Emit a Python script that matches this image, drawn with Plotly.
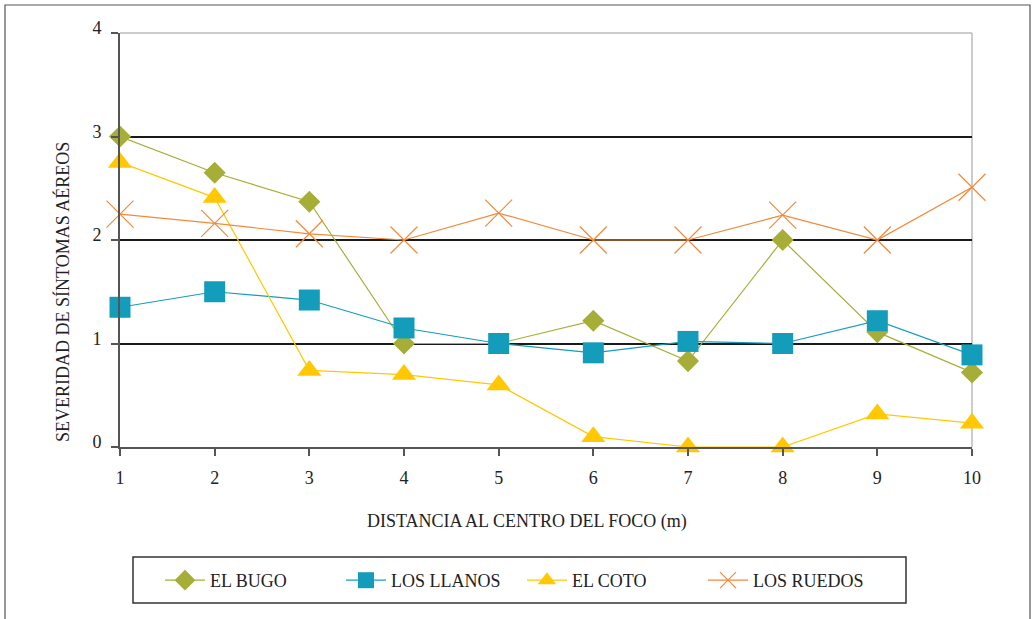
import plotly.graph_objects as go

# Distance from the centre of the focus (m)
distancia = [1, 2, 3, 4, 5, 6, 7, 8, 9, 10]

# Aerial symptom severity per site
el_bugo = [3.0, 2.65, 2.37, 1.0, 1.0, 1.22, 0.83, 2.0, 1.11, 0.72]
los_llanos = [1.35, 1.50, 1.42, 1.15, 1.0, 0.91, 1.02, 1.0, 1.22, 0.89]
el_coto = [2.75, 2.41, 0.74, 0.70, 0.60, 0.10, 0.0, 0.0, 0.32, 0.23]
los_ruedos = [2.25, 2.16, 2.06, 2.0, 2.26, 2.0, 2.0, 2.24, 2.0, 2.51]

y_ticks = [0, 1, 2, 3, 4]

FONT = "Liberation Serif"
TXT = "#222"

series = [
    ("EL BUGO", el_bugo, "#A6AE38", dict(symbol="diamond", size=17)),
    ("LOS LLANOS", los_llanos, "#149DBA", dict(symbol="square", size=21)),
    ("EL COTO", el_coto, "#FFC800", dict(symbol="triangle-up", size=21)),
    ("LOS RUEDOS", los_ruedos, "#F28A3A",
     dict(symbol="x-thin-open", size=27, line=dict(width=1.2))),
]

fig = go.Figure()
for name, vals, color, mk in series:
    marker = dict(color=color, **mk)
    if "line" in marker:
        marker["line"] = dict(color=color, width=mk["line"]["width"])
    else:
        marker["line"] = dict(width=0)
    fig.add_trace(go.Scatter(
        x=distancia, y=vals, name=name, mode="lines+markers",
        line=dict(color=color, width=1.2),
        marker=marker, cliponaxis=False,
    ))

def px_x(p):
    return (p - 120) / 852

def px_y(p):
    return (447 - p) / 414

fig.update_layout(
    width=1033, height=619,
    margin=dict(l=120, r=61, t=33, b=172),
    paper_bgcolor="white", plot_bgcolor="white",
    font=dict(family=FONT, size=18, color=TXT),
    showlegend=True,
    legend=dict(
        orientation="h", x=px_x(160), y=px_y(562), xanchor="left", yanchor="top",
        borderwidth=0, bgcolor="rgba(0,0,0,0)",
        font=dict(family=FONT, size=18, color=TXT),
        itemwidth=40, entrywidth=126, entrywidthmode="pixels",
    ),
    xaxis=dict(
        range=[1, 10], tickvals=distancia, showgrid=False, zeroline=False,
        showline=True, linecolor="#555", linewidth=2,
        ticks="outside", ticklen=7, tickcolor="#555", tickwidth=1.5,
        ticklabelstandoff=6, tickfont=dict(family=FONT, size=18, color=TXT),
    ),
    yaxis=dict(
        range=[0, 4], tickvals=y_ticks, showgrid=True, gridcolor="#1a1a1a",
        gridwidth=1.5, zeroline=False,
        showline=True, linecolor="#555", linewidth=2,
        ticks="outside", ticklen=7, tickcolor="#555", tickwidth=1.5,
        ticklabelstandoff=6, ticklabelshift=-5,
        tickfont=dict(family=FONT, size=18, color=TXT),
    ),
    shapes=[
        # light frame on the top and right of the plot area
        dict(type="line", xref="paper", yref="paper", x0=0, x1=1, y0=1, y1=1,
             line=dict(color="#bbbbbb", width=1.5), layer="below"),
        dict(type="line", xref="paper", yref="paper", x0=1, x1=1, y0=0, y1=1,
             line=dict(color="#bbbbbb", width=1.5), layer="below"),
        # outer chart border
        dict(type="rect", xref="paper", yref="paper",
             x0=px_x(5), x1=px_x(1030), y0=px_y(640), y1=px_y(5),
             line=dict(color="#555", width=1.2), layer="below"),
        # legend frame
        dict(type="rect", xref="paper", yref="paper",
             x0=px_x(133), x1=px_x(906), y0=px_y(603), y1=px_y(557),
             line=dict(color="#333", width=1.5), layer="below"),
    ],
    annotations=[
        dict(text="SEVERIDAD DE SÍNTOMAS AÉREOS", xref="paper", yref="paper",
             x=px_x(62), y=px_y(292), textangle=-90,
             showarrow=False, font=dict(family=FONT, size=18, color=TXT),
             xanchor="center", yanchor="middle"),
        dict(text="DISTANCIA AL CENTRO DEL FOCO (m)", xref="paper", yref="paper",
             x=px_x(527), y=px_y(521),
             showarrow=False, font=dict(family=FONT, size=18, color=TXT),
             xanchor="center", yanchor="middle"),
    ],
)

fig.write_html("out.html")
